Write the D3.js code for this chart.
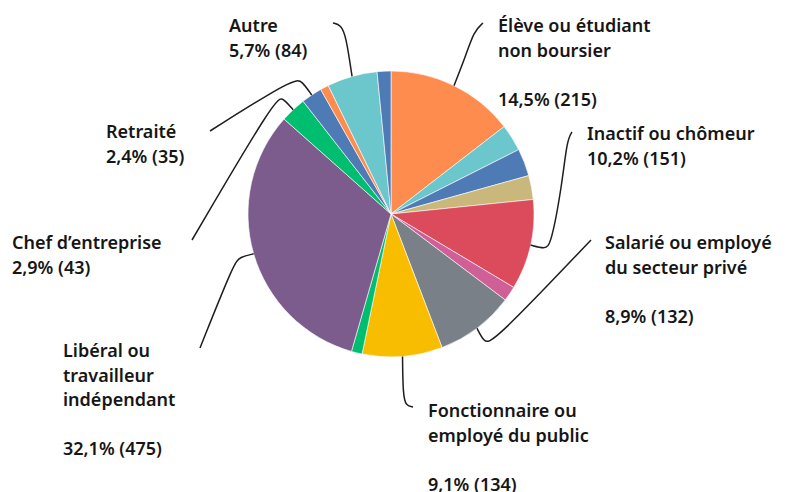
<!DOCTYPE html>
<html>
<head>
<meta charset="utf-8">
<script src="https://cdn.jsdelivr.net/npm/d3@7"></script>
<style>
  body { margin: 0; background: #fff; }
  svg text { font-family: "Noto Sans", sans-serif; font-weight: 600; fill: #161616; }
</style>
</head>
<body>
<div id="content"></div>
<script>
// Effectifs par catégorie, dans l'ordre des parts (sens horaire depuis midi)
const categories = [
  'Élève ou étudiant non boursier', 'c2', 'c3', 'c4', 'Inactif ou chômeur', 'c6',
  'Salarié ou employé du secteur privé', 'Fonctionnaire ou employé du public', 'c9',
  'Libéral ou travailleur indépendant', "Chef d’entreprise", 'Retraité', 'c13', 'Autre', 'c15'
];
const counts = [215, 45, 46, 40, 151, 25, 132, 134, 18, 475, 43, 35, 14, 84, 23];
const colors = ['#ff8c4f', '#6cc7cc', '#4e7bb5', '#c9b77b', '#db4b5b', '#d15f97',
  '#7a8087', '#f9bd00', '#00be6f', '#7b5c8d', '#00be6f', '#4e7bb5', '#ff8c4f', '#6cc7cc', '#4e7bb5'];

// Étiquettes : index de la part, lignes de texte, pourcentage affiché
const labelSlice = [0, 4, 6, 7, 9, 10, 11, 13];
const labelLines = [
  ['Élève ou étudiant', 'non boursier', ''],
  ['Inactif ou chômeur'],
  ['Salarié ou employé', 'du secteur privé', ''],
  ['Fonctionnaire ou', 'employé du public', ''],
  ['Libéral ou', 'travailleur', 'indépendant', ''],
  ['Chef d’entreprise'],
  ['Retraité'],
  ['Autre']
];
const labelPct = [14.5, 10.2, 8.9, 9.1, 32.1, 2.9, 2.4, 5.7];

// Mise en page des étiquettes et des traits de rappel
const labelPos = [[498, 32], [587, 140], [605, 249], [428, 417], [63, 357], [12, 249], [106, 138], [229, 32]];
const leaderPts = [
  [[465, 58], [474, 31], [483, 23]],
  [[545, 249], [551, 245], [562, 185], [567, 140], [572, 132]],
  [[484, 342], [492, 344], [591, 240]],
  [[403, 395], [406, 406], [413, 407]],
  [[240, 257], [234, 263], [200, 348]],
  [[283, 98], [276, 97], [192, 240]],
  [[302, 81], [294, 78], [210, 131]],
  [[346, 36], [341, 25], [333, 23]]
];

const width = 790, height = 492;
const cx = 391, cy = 214, radius = 143;
const lineHeight = 24.6;

const svg = d3.select('#content')
  .append('svg')
  .attr('width', width)
  .attr('height', height);

const pie = d3.pie().sort(null).value(d => d);
const arcs = pie(counts);
const arc = d3.arc().innerRadius(0).outerRadius(radius);

const g = svg.append('g').attr('transform', `translate(${cx},${cy})`);

g.selectAll('path')
  .data(arcs)
  .enter()
  .append('path')
  .attr('d', arc)
  .attr('fill', (d, i) => colors[i])
  .attr('stroke', '#fff')
  .attr('stroke-width', 0.6);

// Traits de rappel, partant du milieu de chaque part
const leader = d3.line().curve(d3.curveBasis);
svg.append('g')
  .selectAll('path')
  .data(labelSlice)
  .enter()
  .append('path')
  .attr('d', (s, i) => {
    const a = (arcs[s].startAngle + arcs[s].endAngle) / 2;
    const start = [cx + radius * Math.sin(a), cy - radius * Math.cos(a)];
    return leader([start].concat(leaderPts[i]));
  })
  .attr('fill', 'none')
  .attr('stroke', '#1e1e1e')
  .attr('stroke-width', 1.5);

// Textes
const fmt = v => d3.format('.1f')(v).replace('.', ',');
const labels = svg.append('g')
  .selectAll('text')
  .data(labelSlice)
  .enter()
  .append('text')
  .attr('x', (s, i) => labelPos[i][0])
  .attr('y', (s, i) => labelPos[i][1])
  .style('font-size', '18px');

labels.each(function(s, i) {
  const t = d3.select(this);
  const lines = labelLines[i].concat([`${fmt(labelPct[i])}% (${counts[s]})`]);
  lines.forEach((l, k) => {
    t.append('tspan')
      .attr('x', labelPos[i][0])
      .attr('y', labelPos[i][1] + k * lineHeight)
      .text(l);
  });
});
</script>
</body>
</html>
